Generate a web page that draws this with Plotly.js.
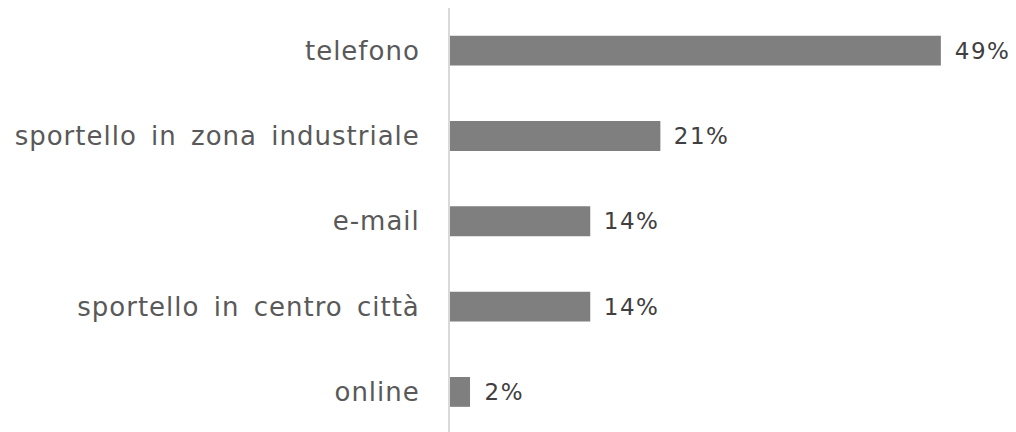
<!DOCTYPE html>
<html><head><meta charset="utf-8">
<script src="https://cdn.plot.ly/plotly-3.0.1.min.js"></script>
<style>html,body{margin:0;padding:0;background:#fff}#c{width:1016px;height:432px}
#c .ytick text{letter-spacing:1px;word-spacing:5px}
#c .annotation-text{letter-spacing:1.5px}
</style>
</head><body><div id="c"></div>
<script>
const categories = ["telefono", "sportello in zona industriale", "e-mail", "sportello in centro città", "online"];
const values = [49, 21, 14, 14, 2];
const valueLabels = ["49%", "21%", "14%", "14%", "2%"];

const trace = {
  type: "bar", orientation: "h",
  x: values, y: categories,
  marker: {color: "#7f7f7f"},
  width: 0.35,
  hoverinfo: "none"
};
const annotations = categories.map((c, i) => ({
  x: values[i], y: c, xref: "x", yref: "y",
  text: valueLabels[i], showarrow: false,
  xanchor: "left", xshift: 14,
  font: {family: "DejaVu Sans, Verdana, sans-serif", size: 23, color: "#404040"}
}));
Plotly.newPlot("c", [trace], {
  width: 1016, height: 432,
  margin: {l: 450, r: 0, t: 8, b: 0},
  paper_bgcolor: "#fff", plot_bgcolor: "#fff",
  showlegend: false,
  xaxis: {range: [0, 56.5], visible: false, fixedrange: true},
  yaxis: {
    type: "category", categoryorder: "array", categoryarray: categories,
    range: [4.47, -0.5],
    showline: true, linecolor: "#d9d9d9", linewidth: 2,
    ticks: "", showgrid: false, zeroline: false,
    ticklabelstandoff: 23,
    tickfont: {family: "DejaVu Sans, Verdana, sans-serif", size: 26, color: "#595959"}
  },
  annotations: annotations
}, {staticPlot: true});
</script></body></html>
